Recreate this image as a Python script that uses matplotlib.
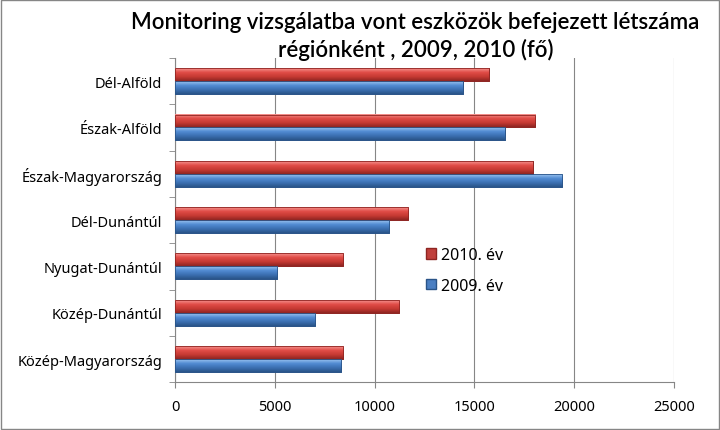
import numpy as np
import matplotlib
matplotlib.use("Agg")
import matplotlib.pyplot as plt
from matplotlib.colors import LinearSegmentedColormap
from matplotlib.patches import Rectangle, Patch

plt.rcParams['font.family'] = ['Noto Sans', 'DejaVu Sans']

# data, top to bottom as in the chart
regions = ["Dél-Alföld", "Észak-Alföld", "Észak-Magyarország", "Dél-Dunántúl",
           "Nyugat-Dunántúl", "Közép-Dunántúl", "Közép-Magyarország"]
vals_2010 = [15730, 18050, 17930, 11700, 8440, 11240, 8440]
vals_2009 = [14430, 16530, 19400, 10730, 5120, 7040, 8340]
xticks = [0, 5000, 10000, 15000, 20000, 25000]

fig = plt.figure(figsize=(7.2, 4.31), dpi=100)
ax = fig.add_axes([0.243, 0.111, 0.693, 0.752])

y = np.arange(len(regions))
h = 0.28
bars_r = ax.barh(y - h / 2, vals_2010, height=h, color="#D0433F", edgecolor="#8E2522", linewidth=0.6, zorder=3)
bars_b = ax.barh(y + h / 2, vals_2009, height=h, color="#4B7FC2", edgecolor="#2A5488", linewidth=0.6, zorder=3)

# fake the excel 3d shading with a vertical gradient on each bar
cm_r = LinearSegmentedColormap.from_list("r", ["#F5938F", "#E04C47", "#C63A33", "#8E2522"])
cm_b = LinearSegmentedColormap.from_list("b", ["#9CC3F0", "#528CD3", "#3C70B2", "#2A5488"])
grad = np.linspace(0, 1, 64).reshape(-1, 1)
for bars, cm in [(bars_r, cm_r), (bars_b, cm_b)]:
    for p in bars:
        x0, y0 = p.get_x(), p.get_y()
        w, hh = p.get_width(), p.get_height()
        ax.imshow(grad, cmap=cm, aspect="auto", extent=[x0, x0 + w, y0, y0 + hh],
                  origin="lower", zorder=4)
        ax.add_patch(Rectangle((x0, y0), w, hh, fill=False, edgecolor=cm(1.0), linewidth=0.6, zorder=5))

ax.set_xlim(0, 25000)
ax.set_ylim(len(regions) - 0.5, -0.5)
ax.set_xticks(xticks)
ax.set_xticklabels([str(t) for t in xticks], fontsize=10.5)
ax.set_yticks(y)
ax.set_yticklabels(regions, fontsize=10.5)
ax.set_yticks(np.arange(len(regions) + 1) - 0.5, minor=True)
ax.tick_params(axis="y", which="major", length=0, pad=9)
ax.tick_params(axis="y", which="minor", length=4, color="#868686", direction="out")
ax.tick_params(axis="x", length=4, color="#868686", direction="out", pad=8)

ax.grid(axis="x", color="#868686", linewidth=0.8, zorder=0)
ax.set_axisbelow(True)
for s in ["top", "right"]:
    ax.spines[s].set_visible(False)
for s in ["left", "bottom"]:
    ax.spines[s].set_color("#868686")

# legend
handles = [Patch(facecolor="#C0403C", edgecolor="#8E2522"),
           Patch(facecolor="#4B7FC2", edgecolor="#2A5488")]
ax.legend(handles, ["2010. év", "2009. év"], loc="center left", bbox_to_anchor=(0.475, 0.345),
          frameon=False, fontsize=11.5, handlelength=0.6, handleheight=0.6,
          handletextpad=0.3, labelspacing=0.9)

fig.suptitle("Monitoring vizsgálatba vont eszközök befejezett létszáma\nrégiónként , 2009, 2010 (fő)",
             x=0.577, y=0.972, fontsize=16, fontweight=600, linespacing=1.35,
             family=["Lato", "DejaVu Sans"])

fig.add_artist(Rectangle((0.002, 0.003), 0.996, 0.994, transform=fig.transFigure,
                         fill=False, edgecolor="#868686", linewidth=1))

fig.savefig("out.png", dpi=100)
